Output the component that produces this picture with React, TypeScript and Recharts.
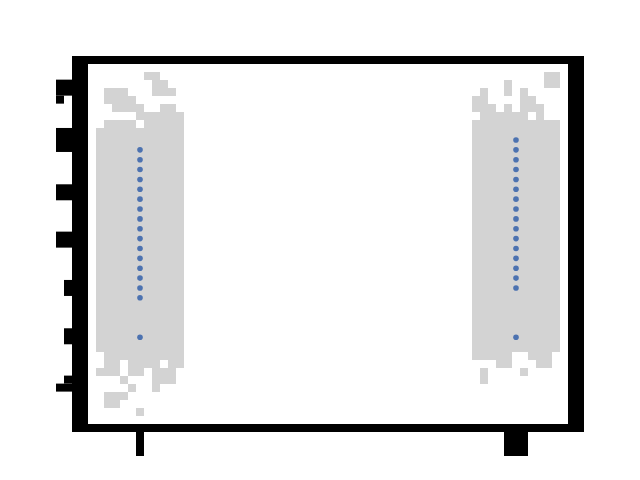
import { ComposedChart, Bar, Scatter, XAxis, YAxis } from 'recharts';

// two groups on a numeric x axis (0 and 1), no labels in the original
const groups = [0, 1];
const yTicks = [0, 1, 2, 3, 4, 5, 6];

// dense gray body of each group: [low, high]
const bodyLow = [0.701, 0.701];
const bodyHigh = [5.242, 5.404];

// blue points
const leftPoints = [1.0, 1.8, 2.0, 2.2, 2.4, 2.6, 2.8, 3.0, 3.2, 3.4, 3.6, 3.8, 4.0, 4.2, 4.4, 4.6, 4.8];
const rightPoints = [1.0, 2.0, 2.2, 2.4, 2.6, 2.8, 3.0, 3.2, 3.4, 3.6, 3.8, 4.0, 4.2, 4.4, 4.6, 4.8, 5.0];

// ragged gray edges: rows of x offsets around each group
const leftEdgeRows = [
    { y: 6.296, dx: [0.021, 0.043] },
    { y: 6.134, dx: [0.043, 0.064] },
    { y: 5.972, dx: [-0.085, -0.064, -0.043, 0.043, 0.064, 0.085] },
    { y: 5.81, dx: [-0.085, -0.064, -0.043, -0.021] },
    { y: 5.648, dx: [-0.064, -0.043, -0.021, 0, 0.064, 0.085] },
    { y: 5.486, dx: [0, 0.021, 0.043, 0.064, 0.085, 0.106] },
    { y: 5.324, dx: [-0.085, -0.064, -0.043, -0.021, 0.021, 0.043, 0.064, 0.085, 0.106] },
    { y: 0.62, dx: [-0.085, -0.064, -0.043, -0.021, 0, 0.021, 0.043, 0.064, 0.085, 0.106] },
    { y: 0.458, dx: [-0.085, -0.064, -0.021, 0, 0.021, 0.043, 0.085, 0.106] },
    { y: 0.296, dx: [-0.106, -0.085, -0.064, -0.021, 0, 0.043, 0.064, 0.085] },
    { y: 0.134, dx: [-0.043, 0.043, 0.064, 0.085] },
    { y: -0.028, dx: [-0.021, 0.043] },
    { y: -0.19, dx: [-0.085, -0.064, -0.043] },
    { y: -0.352, dx: [-0.085, -0.064] },
    { y: -0.515, dx: [0] },
];
const rightEdgeRows = [
    { y: 6.296, dx: [0.085, 0.106] },
    { y: 6.134, dx: [-0.021, 0.085, 0.106] },
    { y: 5.972, dx: [-0.085, -0.021, 0.021] },
    { y: 5.81, dx: [-0.106, -0.085, 0.021, 0.043] },
    { y: 5.648, dx: [-0.106, -0.085, -0.064, -0.021, 0.021, 0.043, 0.064] },
    { y: 5.486, dx: [-0.085, -0.064, -0.043, -0.021, 0, 0.021, 0.064] },
    { y: 0.62, dx: [-0.106, -0.085, -0.064, -0.043, -0.021, 0.043, 0.064, 0.085] },
    { y: 0.458, dx: [-0.043, -0.021, 0.064, 0.085] },
    { y: 0.296, dx: [-0.085, 0.021] },
    { y: 0.134, dx: [-0.085] },
];

const GRAY = '#d3d3d3';
const BLUE = '#4c72b0';
const BODY_WIDTH = 88;

const bodyData = groups.map((g, i) => ({ x: g, range: [bodyLow[i], bodyHigh[i]] }));

const edgeCells = [
    ...leftEdgeRows.flatMap(r => r.dx.map(d => ({ x: groups[0] + d, y: r.y }))),
    ...rightEdgeRows.flatMap(r => r.dx.map(d => ({ x: groups[1] + d, y: r.y }))),
];

const pointData = [
    ...leftPoints.map(v => ({ x: groups[0], y: v })),
    ...rightPoints.map(v => ({ x: groups[1], y: v })),
];

// chunky tick marks, [dx, width, dy, height]
const Y_TICK_BLOCKS: Record<number, number[][]> = {
    6: [[0, 16, -11, 16], [0, 8, 5, 8]],
    5: [[0, 16, -12, 24]],
    4: [[0, 16, -5, 16]],
    3: [[0, 16, -7, 16]],
    2: [[8, 8, -8, 16]],
    1: [[8, 8, -9, 16]],
    0: [[8, 8, -11, 8], [0, 16, -3, 8]],
};
const X_TICK_BLOCKS: Record<number, number[]> = {
    0: [-4, 8],
    1: [-12, 24],
};

const YTick = (props: any) => {
    const { x, y, payload } = props;
    const blocks = Y_TICK_BLOCKS[payload.value] ?? [[0, 16, -8, 16]];
    return (
        <g>
            {blocks.map(([dx, w, dy, h], i) => (
                <rect key={i} x={x - 32 + dx} y={y + dy} width={w} height={h} fill="#000" />
            ))}
        </g>
    );
};

const XTick = (props: any) => {
    const { x, y, payload } = props;
    const [dx, w] = X_TICK_BLOCKS[payload.value] ?? [-8, 16];
    return <rect x={x + dx} y={y + 8} width={w} height={24} fill="#000" />;
};

// bar keeps its scaled y/height, drawn wider around its centre
const BodyShape = (props: any) => {
    const { x, y, width, height } = props;
    const cx = x + width / 2;
    return (
        <rect x={cx - BODY_WIDTH / 2} y={y} width={BODY_WIDTH} height={height} fill={GRAY} shapeRendering="crispEdges" />
    );
};

const Cell8 = (props: any) => (
    <rect x={props.cx - 4} y={props.cy - 4} width={8} height={8} fill={GRAY} shapeRendering="crispEdges" />
);

const Dot = (props: any) => <circle cx={props.cx} cy={props.cy} r={2.8} fill={BLUE} />;

export default function App() {
    return (
        <div style={{ position: 'fixed', left: 0, top: 0, width: 640, height: 480, background: '#fff' }}>
            <ComposedChart
                width={640}
                height={480}
                data={bodyData}
                margin={{ top: 64, right: 72, left: 0, bottom: 0 }}
            >
                <XAxis
                    dataKey="x"
                    type="number"
                    domain={[-0.1383, 1.1383]}
                    ticks={groups}
                    allowDataOverflow
                    axisLine={false}
                    tickLine={false}
                    tickSize={0}
                    tickMargin={0}
                    height={56}
                    tick={<XTick />}
                />
                <YAxis
                    type="number"
                    domain={[-0.758, 6.54]}
                    ticks={yTicks}
                    allowDataOverflow
                    axisLine={false}
                    tickLine={false}
                    tickSize={0}
                    tickMargin={0}
                    width={88}
                    tick={<YTick />}
                />
                <Bar dataKey="range" fill={GRAY} barSize={8} shape={<BodyShape />} isAnimationActive={false} />
                <Scatter data={edgeCells} dataKey="y" shape={<Cell8 />} isAnimationActive={false} />
                <Scatter data={pointData} dataKey="y" shape={<Dot />} isAnimationActive={false} />
            </ComposedChart>
            <div
                style={{
                    position: 'absolute',
                    left: 72,
                    top: 56,
                    width: 512,
                    height: 376,
                    boxSizing: 'border-box',
                    borderStyle: 'solid',
                    borderColor: '#000',
                    borderWidth: '8px 16px 8px 16px',
                    pointerEvents: 'none',
                }}
            />
        </div>
    );
}
